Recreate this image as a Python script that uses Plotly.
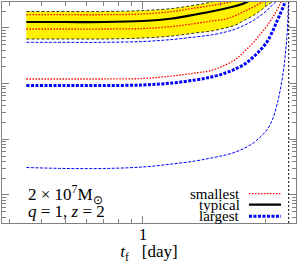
import plotly.graph_objects as go

# ---- data (t_f in days, quantity in arbitrary log units) ----
t_grid = [0.35, 0.5, 0.7, 1.0, 1.3, 1.6, 1.85, 2.1, 2.3, 2.5, 2.7, 2.9, 3.05, 3.2, 3.33, 3.45, 3.55, 3.62, 3.67, 3.70, 3.72]

typical = [1276, 1276, 1276, 1330, 1475, 1741, 1969, 2230, 2472, 2799, 3443]
band_upper = [1969, 1969, 1969, 2052, 2230, 2576, 2917, 3443, 4000, 4000, 4000, 4000, 4000, 4000, 4000]
band_lower = [632, 632, 632, 659, 716, 810, 880, 996, 1127, 1386, 1670, 2094, 2524, 2917, 3443]
smallest_hi = [1726, 1726, 1726, 1778, 1969, 2276, 2524, 2799, 3105, 3589]
smallest_mid = [955, 955, 955, 975, 1059, 1199, 1330, 1445, 1670, 2010, 2372, 2858, 3443]
largest_hi = [551, 551, 551, 570, 619, 687, 747, 844, 955, 1127, 1358, 1706, 2052, 2576, 3041, 3589]
smallest_lo = [121.0, 121.0, 121.0, 123.6, 136.9, 155.0, 171.8, 215.8, 270.8, 384.9, 547, 810, 1081, 1506, 2052, 2799, 3443]
largest_mid = [92.5, 92.5, 92.5, 94.4, 102.5, 116.1, 131.3, 155.0, 182.9, 224.8, 300.5, 418, 558, 844, 1276, 1852, 2524, 3304]
largest_lo = [3.117, 2.990, 2.990, 3.183, 3.603, 4.077, 4.616, 5.224, 5.912, 6.982, 8.585, 11.46, 14.69, 22.20, 39.62, 83.4, 190.5, 435.5, 996, 2576, 3896]

t_limit = 3.71

x_major = [1]
x_minor = [0.3, 0.4, 0.5, 0.6, 0.7, 0.8, 0.9, 2, 3]
y_major = [1, 10, 100, 1000]
y_minor = [m * d for d in [0.1, 1, 10, 100, 1000] for m in range(2, 10)]

legend_labels = ["smallest", "typical", "largest"]

RED = "#ff0000"
BLUE = "#0000ff"
FONT = "Liberation Serif"
AXC = "#808080"

fig = go.Figure()

def tt(vals):
    return t_grid[:len(vals)]

# yellow band
nb = len(band_lower)
fig.add_trace(go.Scatter(
    x=t_grid[:nb] + t_grid[:nb][::-1],
    y=band_upper[:nb] + band_lower[::-1],
    fill="toself", fillcolor="#fff200", mode="lines",
    line=dict(width=0, shape="spline"), hoverinfo="skip", showlegend=False))

# band edges
for vals in (band_upper[:8], band_lower):
    fig.add_trace(go.Scatter(x=tt(vals), y=vals, mode="lines", showlegend=False,
                             line=dict(color="#333333", width=1, dash="3px,2px", shape="spline")))

# smallest (red dotted)
for vals in (smallest_hi, smallest_mid, smallest_lo):
    fig.add_trace(go.Scatter(x=tt(vals), y=vals, mode="lines", showlegend=False,
                             line=dict(color=RED, width=1.3, dash="1.5px,1.5px", shape="spline")))

# typical
fig.add_trace(go.Scatter(x=tt(typical), y=typical, mode="lines", showlegend=False,
                         line=dict(color="black", width=2.2, shape="spline")))

# largest (blue)
for vals in (largest_hi, largest_lo):
    fig.add_trace(go.Scatter(x=tt(vals), y=vals, mode="lines", showlegend=False,
                             line=dict(color=BLUE, width=1, dash="3px,1.5px", shape="spline")))
fig.add_trace(go.Scatter(x=tt(largest_mid), y=largest_mid, mode="lines", showlegend=False,
                         line=dict(color=BLUE, width=3, dash="3px,1.5px", shape="spline")))

# vertical limit
fig.add_vline(x=t_limit, line=dict(color="black", width=1, dash="2px,2px"))

# legend (text left of sample line)
leg_y = [0.133, 0.083, 0.031]
leg_styles = [dict(color=RED, width=1.3, dash="1.5px,1.5px"),
              dict(color="black", width=2.2),
              dict(color=BLUE, width=3, dash="3px,1.5px")]
for lab, yy, st in zip(legend_labels, leg_y, leg_styles):
    fig.add_annotation(x=0.816, y=yy, xref="paper", yref="paper", text=lab,
                       showarrow=False, xanchor="right", yanchor="middle",
                       font=dict(family=FONT, size=15, color="black"))
    fig.add_shape(type="line", xref="paper", yref="paper", x0=0.840, x1=0.949,
                  y0=yy, y1=yy, line=st)

fig.add_annotation(x=0.08, y=0.127, xref="paper", yref="paper",
                   text="2 × 10<sup>7</sup>M<sub>⊙</sub>", showarrow=False,
                   xanchor="left", yanchor="middle", font=dict(family=FONT, size=17, color="black"))
fig.add_annotation(x=0.08, y=0.050, xref="paper", yref="paper",
                   text="<i>q</i> = 1, <i>z</i> = 2", showarrow=False,
                   xanchor="left", yanchor="middle", font=dict(family=FONT, size=17, color="black"))

fig.update_layout(
    template="none", width=298, height=264,
    margin=dict(l=2, r=2, t=2, b=41),
    paper_bgcolor="white", plot_bgcolor="white",
    font=dict(family=FONT, size=17, color="black"),
    showlegend=False,
)
fig.update_xaxes(type="log", range=[-0.551, 0.598], showgrid=False, zeroline=False,
                 showline=True, linecolor=AXC, linewidth=1, mirror="allticks",
                 ticks="inside", ticklen=7, tickcolor=AXC, tickwidth=1,
                 tickmode="array", tickvals=x_major, ticktext=["1"],
                 ticklabelstandoff=-4,
                 minor=dict(tickmode="array", tickvals=x_minor, ticks="inside", ticklen=4,
                            tickcolor=AXC, showgrid=False),
                 title=dict(text="<i>t</i><sub>f</sub>\u00a0\u00a0\u00a0[day]", standoff=9,
                            font=dict(family=FONT, size=17)),
                 automargin=False)
fig.update_yaxes(type="log", range=[-0.503, 3.465], showgrid=False, zeroline=False,
                 showline=True, linecolor=AXC, linewidth=1, mirror="allticks",
                 ticks="inside", ticklen=7, tickcolor=AXC, tickwidth=1,
                 tickmode="array", tickvals=y_major, showticklabels=False,
                 minor=dict(tickmode="array", tickvals=y_minor, ticks="inside", ticklen=4,
                            tickcolor=AXC, showgrid=False),
                 automargin=False)

fig.write_html("out.html", config={"displayModeBar": False},
               post_script="document.body.style.margin='0';document.body.style.overflow='hidden';")
